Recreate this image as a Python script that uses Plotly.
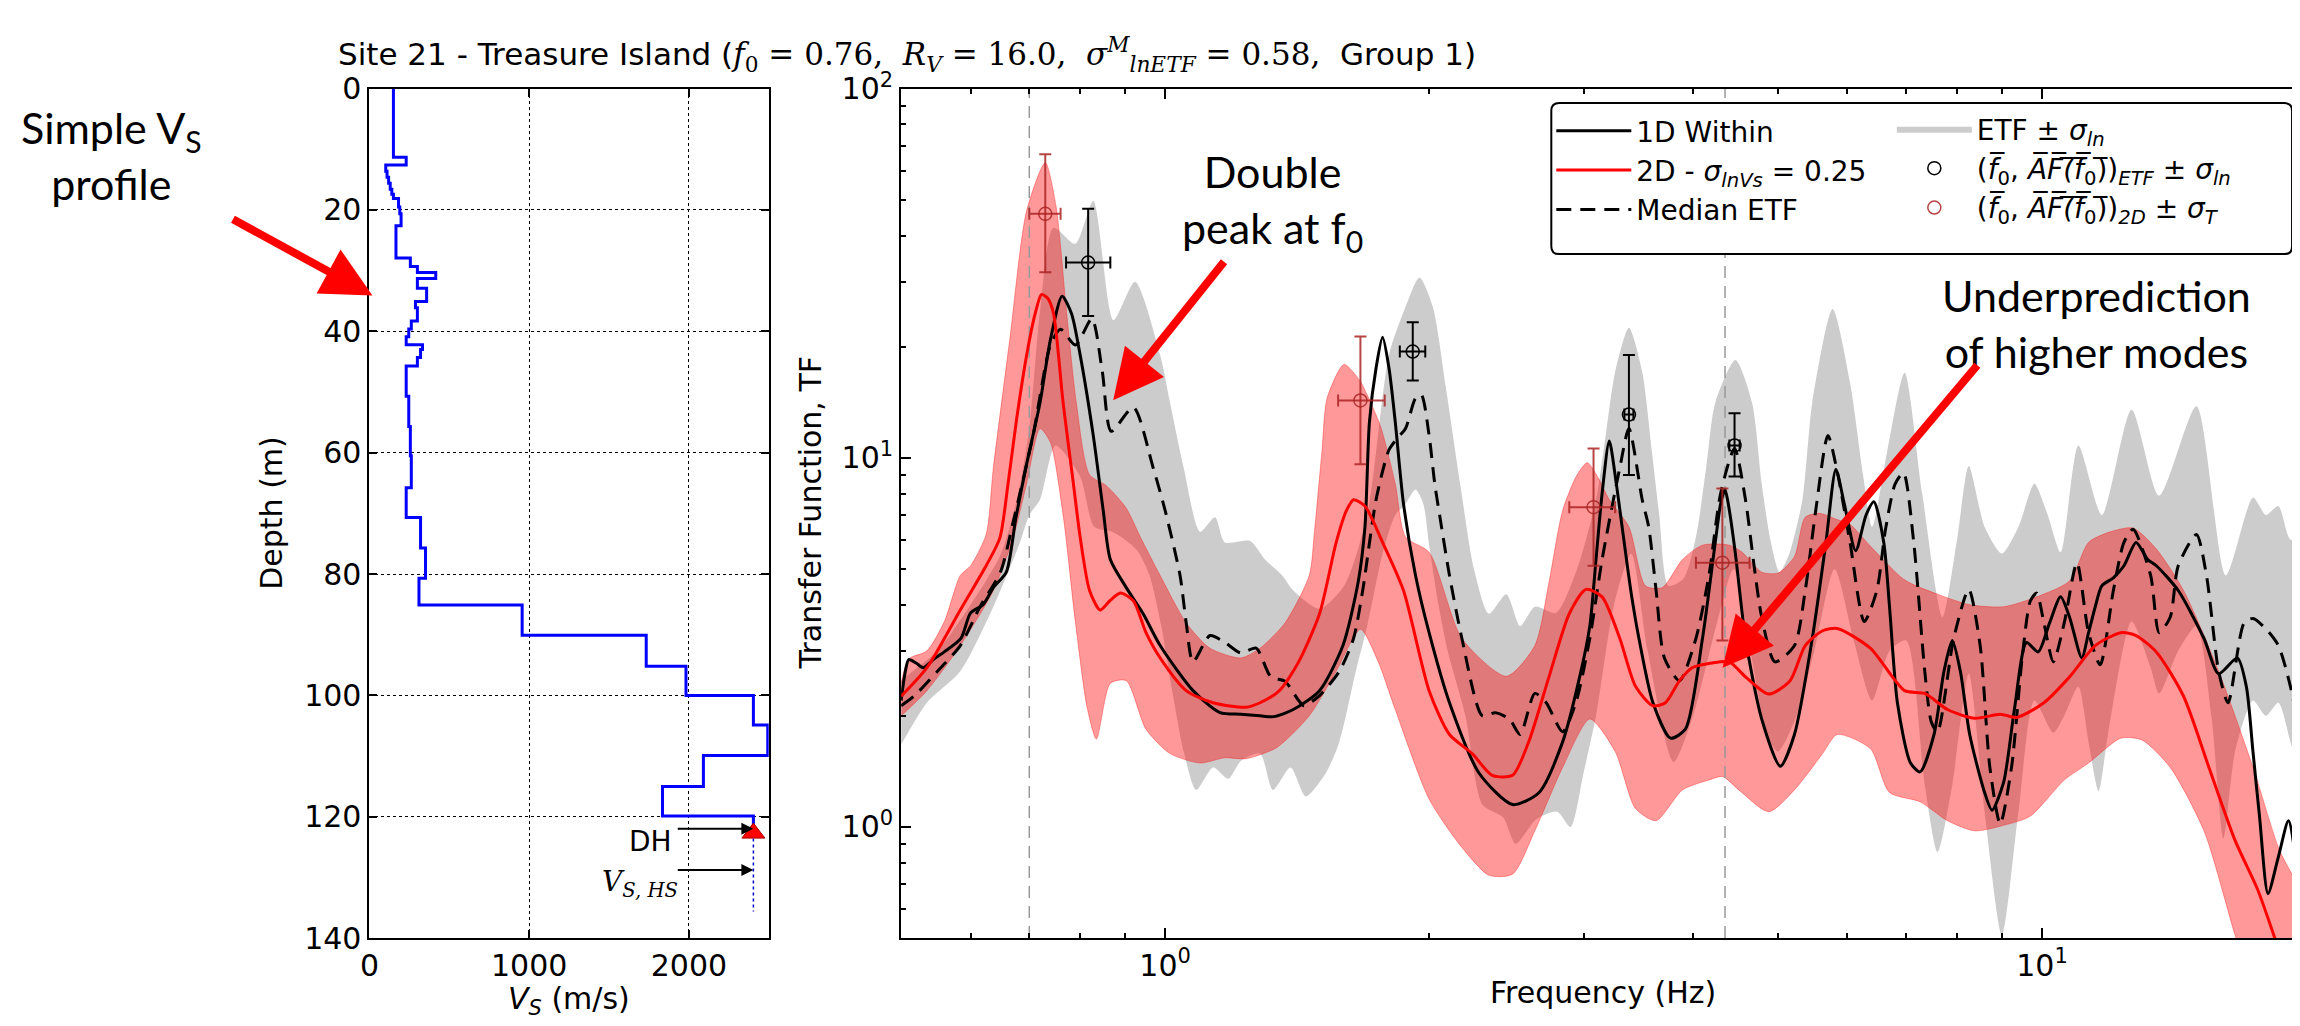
import math
import plotly.graph_objects as go

W, H = 2300, 1026

# ---------------- Vs profile (left panel) ----------------
layer_top_m = [0, 11.3, 12.6, 13.6, 14.6, 15.6, 16.6, 17.4, 18.1, 19.5, 20.6, 22.6, 27.9, 29.3,
               30.3, 31.3, 32.9, 35.1, 36.1, 38.3, 39.6, 40.9, 42.2, 43.0, 44.3, 45.7, 50.7, 55.7,
               60.5, 65.8, 70.7, 75.7, 80.7, 85.1, 90.1, 95.2, 100.0, 104.9, 109.9, 115.0, 119.9]
layer_vs = [150, 230, 102, 110, 120, 130, 140, 150, 182, 190, 198, 166, 256, 300,
            415, 300, 358, 288, 300, 262, 246, 230, 332, 320, 300, 230, 246, 256,
            262, 230, 320, 351, 310, 956, 1733, 1982, 2404, 2494, 2091, 1835, 2404]
profile_end_m = 121.5
vs_halfspace = 2404
halfspace_depths = [123.6, 135.6]
dh_depth_m = 122.7
dh_arrow_depth = 122.0
hs_arrow_depth = 128.8
arrow_tail_vs = 1921

# ---------------- Transfer functions (right panel) ----------------
f_1d = [0.50, 0.505, 0.51, 0.52, 0.53, 0.545, 0.56, 0.585, 0.60, 0.62, 0.637, 0.659, 0.676, 0.695,
        0.72, 0.74, 0.763, 0.782, 0.80, 0.828, 0.85, 0.866, 0.903, 0.944, 0.987, 1.076, 1.155, 1.22,
        1.283, 1.33, 1.40, 1.50, 1.595, 1.66, 1.69, 1.71, 1.74, 1.77, 1.80, 1.83, 1.87, 1.93, 2.00,
        2.11, 2.28, 2.49, 2.67, 2.84, 2.97, 3.05, 3.10, 3.15, 3.21, 3.27, 3.32, 3.40, 3.47, 3.60,
        3.77, 3.92, 4.10, 4.24, 4.30, 4.35, 4.40, 4.47, 4.59, 4.79, 5.03, 5.22, 5.47, 5.67, 5.82,
        5.95, 6.13, 6.30, 6.43, 6.60, 6.70, 6.84, 7.08, 7.26, 7.53, 7.73, 7.90, 8.07, 8.27, 8.60,
        8.77, 9.04, 9.30, 9.60, 9.90, 10.2, 10.5, 10.75, 11.1, 11.3, 11.5, 11.7, 12.06, 12.4, 12.8,
        13.2, 13.5, 14.3, 15.3, 15.9, 16.7, 17.1, 17.4, 17.7, 18.1, 18.6, 19.1, 19.5, 19.9]
tf_1d = [2.20, 2.60, 2.84, 2.78, 2.70, 2.85, 2.98, 3.24, 3.80, 4.00, 4.45, 4.90, 6.9, 9.6,
         14.1, 20.9, 27.4, 24.6, 19.0, 11.5, 7.2, 5.3, 4.45, 3.78, 3.10, 2.34, 2.04, 2.02,
         2.00, 1.99, 2.08, 2.34, 3.10, 4.6, 6.5, 12.5, 17.5, 21.2, 17.5, 12.5, 7.5, 4.8, 3.36,
         2.17, 1.40, 1.15, 1.24, 1.70, 2.55, 3.5, 5.3, 8.0, 11.1, 8.5, 6.5, 4.3, 3.24, 2.17,
         1.74, 1.84, 3.24, 5.9, 7.5, 8.2, 7.2, 5.5, 3.24, 1.96, 1.46, 1.78, 3.24, 5.9, 9.3,
         7.5, 5.6, 7.0, 7.6, 5.9, 3.95, 2.17, 1.49, 1.41, 1.78, 2.64, 3.20, 2.64, 1.78, 1.24,
         1.11, 1.32, 2.08, 3.16, 2.98, 3.57, 4.20, 3.70, 2.87, 3.36, 3.95, 4.50, 4.73, 5.10, 5.90,
         5.30, 5.10, 4.37, 3.24, 2.60, 2.87, 2.40, 1.60, 1.07, 0.66, 0.83, 1.04, 0.80, 0.51]

f_2d = [0.50, 0.535, 0.584, 0.625, 0.648, 0.662, 0.677, 0.695, 0.711, 0.723, 0.735, 0.746, 0.765,
        0.786, 0.80, 0.82, 0.843, 0.865, 0.889, 0.92, 0.951, 0.987, 1.057, 1.134, 1.236, 1.283,
        1.35, 1.42, 1.50, 1.567, 1.61, 1.64, 1.69, 1.77, 1.87, 2.00, 2.11, 2.24, 2.36, 2.49, 2.60,
        2.74, 2.89, 3.02, 3.15, 3.30, 3.44, 3.60, 3.72, 3.86, 3.99, 4.20, 4.40, 4.59, 4.88, 5.16,
        5.37, 5.62, 5.84, 6.37, 6.97, 7.35, 7.80, 8.38, 8.96, 9.36, 10.05, 10.75, 11.5, 12.3,
        12.8, 13.5, 14.5, 15.5, 16.6, 17.6, 18.4, 19.0]
tf_2d = [2.26, 2.70, 3.87, 5.10, 6.07, 8.5, 12.7, 18.9, 24.6, 27.7, 27.0, 24.6, 14.1,
         8.5, 6.1, 4.37, 3.87, 4.10, 4.30, 4.10, 3.36, 2.87, 2.34, 2.17, 2.11, 2.17,
         2.34, 2.80, 3.78, 5.9, 7.2, 7.7, 7.4, 5.9, 4.37, 2.34, 1.78, 1.58, 1.38, 1.38, 1.71,
         2.55, 3.78, 4.40, 4.20, 3.24, 2.40, 2.13, 2.17, 2.49, 2.70, 2.78, 2.80, 2.55, 2.29, 2.49,
         3.10, 3.40, 3.45, 3.05, 2.34, 2.30, 2.08, 1.97, 2.02, 1.98, 2.17, 2.55, 3.10, 3.36,
         3.30, 2.98, 2.26, 1.45, 0.92, 0.68, 0.505, 0.40]

f_etf = [0.50, 0.517, 0.55, 0.584, 0.615, 0.649, 0.67, 0.707, 0.74, 0.76, 0.79, 0.825, 0.848, 0.868,
         0.92, 0.969, 1.00, 1.04, 1.057, 1.076, 1.125, 1.17, 1.22, 1.27, 1.32, 1.37, 1.42, 1.44,
         1.50, 1.58, 1.64, 1.68, 1.74, 1.80, 1.84, 1.88, 1.93, 1.96, 2.00, 2.03, 2.06, 2.11, 2.18,
         2.30, 2.38, 2.47, 2.54, 2.64, 2.72, 2.84, 2.94, 3.05, 3.15, 3.30, 3.38, 3.50, 3.56, 3.63,
         3.71, 3.86, 4.03, 4.17, 4.30, 4.46, 4.59, 4.70, 4.79, 4.96, 5.22, 5.37, 5.52, 5.70, 5.85,
         6.04, 6.27, 6.48, 6.63, 6.80, 6.95, 7.14, 7.35, 7.48, 7.60, 7.93, 8.25, 8.50, 8.72, 8.96,
         9.23, 9.50, 9.70, 9.86, 10.05, 10.3, 10.6, 10.96, 11.3, 11.65, 12.06, 12.4, 12.7, 13.3,
         13.6, 14.0, 14.3, 15.0, 15.4, 15.9, 16.3, 17.0, 17.4, 18.0, 18.6, 19.2, 19.8, 20.0]
tf_etf = [2.13, 2.26, 2.64, 3.10, 3.95, 4.90, 6.6, 11.5, 20.2, 22.3, 20.2, 23.8, 17.1, 11.8,
          13.7, 9.4, 7.2, 4.8, 3.57, 2.80, 3.30, 3.16, 2.96, 3.05, 2.55, 2.48, 2.20, 2.13,
          2.27, 2.64, 3.24, 4.37, 7.7, 10.5, 11.3, 12.0, 14.5, 14.8, 11.5, 8.5, 6.8, 4.8, 3.24,
          2.00, 2.04, 1.96, 1.78, 2.30, 2.17, 1.81, 2.17, 3.24, 5.3, 9.4, 12.0, 7.7, 6.5, 4.37,
          2.87, 2.49, 3.24, 4.8, 8.0, 10.6, 7.7, 5.0, 3.70, 2.80, 3.10, 4.37, 7.2, 11.5, 9.0,
          5.9, 3.60, 4.37, 6.4, 8.5, 9.1, 5.9, 2.64, 1.92, 1.81, 3.24, 4.40, 3.10, 1.45, 1.02,
          1.45, 2.93, 4.10, 4.30, 3.57, 2.80, 3.57, 5.2, 3.36, 2.75, 4.37, 5.90, 6.40, 4.80,
          3.36, 3.70, 5.10, 6.20, 4.80, 2.64, 2.17, 3.57, 3.67, 3.44, 3.10, 2.40, 1.64, 1.45]

f_etf_up = [0.50, 0.55, 0.60, 0.65, 0.68, 0.70, 0.72, 0.746, 0.79, 0.828, 0.873, 0.924, 0.987, 1.013,
            1.05, 1.096, 1.14, 1.17, 1.25, 1.30, 1.36, 1.40, 1.50, 1.60, 1.70, 1.80, 1.88, 1.95, 2.02,
            2.09, 2.17, 2.25, 2.34, 2.45, 2.54, 2.64, 2.79, 2.95, 3.10, 3.18, 3.26, 3.38, 3.50, 3.59,
            3.66, 3.75, 3.90, 4.03, 4.14, 4.24, 4.47, 4.67, 4.79, 4.90, 5.02, 5.15, 5.33, 5.47, 5.77,
            6.04, 6.25, 6.40, 6.66, 6.97, 7.30, 7.70, 8.00, 8.25, 8.60, 9.00, 9.40, 9.80, 10.15, 10.5,
            11.0, 11.7, 12.65, 13.6, 15.0, 16.2, 17.4, 18.0, 18.6, 19.2, 20.0]
tf_etf_up = [2.50, 3.00, 4.00, 5.50, 8.0, 12.0, 25.0, 42.0, 38.0, 49.6, 23.6, 30.0, 19.0, 14.1,
             9.4, 6.3, 6.9, 5.9, 5.95, 5.30, 4.80, 4.37, 3.90, 4.50, 7.0, 19.0, 25.6, 30.8, 25.6,
             15.5, 8.5, 5.0, 3.78, 4.27, 3.50, 3.95, 3.80, 5.00, 7.7, 11.5, 17.1, 22.5, 17.1, 10.4,
             7.0, 4.5, 4.7, 6.1, 9.4, 14.1, 18.4, 14.1, 8.5, 6.0, 4.9, 5.5, 7.7, 14.1, 25.3,
             16.0, 9.0, 6.5, 10.4, 17.0, 8.0, 3.7, 6.0, 9.5, 6.5, 5.5, 6.5, 8.5, 7.0, 5.55,
             10.8, 7.0, 13.5, 7.9, 13.8, 4.8, 7.8, 7.0, 7.4, 6.0, 6.1]

f_etf_lo = [0.50, 0.535, 0.584, 0.637, 0.683, 0.70, 0.72, 0.75, 0.80, 0.83, 0.87, 0.90, 0.93, 0.96,
            0.99, 1.02, 1.05, 1.085, 1.134, 1.18, 1.22, 1.283, 1.327, 1.39, 1.447, 1.525, 1.58, 1.65,
            1.70, 1.77, 1.83, 1.88, 1.93, 1.97, 2.00, 2.05, 2.10, 2.20, 2.30, 2.43, 2.51, 2.65, 2.80,
            2.90, 3.00, 3.10, 3.25, 3.40, 3.55, 3.80, 4.00, 4.25, 4.45, 4.65, 4.85, 5.00, 5.25, 5.50,
            5.80, 6.10, 6.40, 6.70, 7.00, 7.35, 7.60, 7.90, 8.25, 8.60, 9.00, 9.40, 9.80, 10.3, 10.6,
            11.0, 11.3, 11.6, 11.9, 12.65, 13.3, 13.6, 14.3, 15.0, 15.6, 16.1, 16.6, 17.4, 18.0,
            18.6, 19.2, 19.6, 20.0]
tf_etf_lo = [1.67, 2.17, 2.64, 3.95, 5.9, 7.0, 7.7, 10.8, 8.9, 6.5, 6.3, 6.0, 5.6, 4.8,
             3.5, 2.3, 1.6, 1.26, 1.45, 1.35, 1.51, 1.58, 1.26, 1.45, 1.21, 1.40, 1.70, 2.64,
             3.50, 5.5, 7.0, 7.5, 8.2, 7.5, 5.8, 4.0, 3.0, 2.0, 1.15, 1.06, 0.90, 1.05, 1.10,
             1.00, 1.40, 2.00, 4.0, 5.5, 3.0, 1.50, 2.00, 3.5, 5.0, 3.0, 1.80, 1.60, 2.00, 3.00,
             5.0, 3.2, 2.2, 3.0, 3.2, 1.3, 0.855, 1.3, 2.6, 1.1, 0.51, 1.1, 2.2, 1.8, 2.0,
             2.4, 1.7, 1.25, 1.8, 3.6, 2.7, 2.3, 3.0, 3.5, 2.0, 0.93, 1.6, 2.2, 2.0,
             2.17, 1.7, 1.45, 1.25]

f_2d_up = [0.50, 0.51, 0.535, 0.56, 0.584, 0.60, 0.625, 0.637, 0.665, 0.695, 0.73, 0.751, 0.771,
           0.792, 0.82, 0.857, 0.903, 0.937, 0.987, 1.057, 1.125, 1.22, 1.283, 1.37, 1.46, 1.48,
           1.51, 1.53, 1.60, 1.67, 1.70, 1.76, 1.83, 1.88, 2.00, 2.18, 2.45, 2.64, 2.74, 2.84, 2.95,
           3.03, 3.12, 3.21, 3.38, 3.53, 3.69, 3.89, 4.10, 4.40, 4.55, 4.79, 5.00, 5.22, 5.37, 5.58,
           5.84, 6.04, 6.37, 6.97, 7.60, 8.27, 9.04, 9.86, 10.75, 11.3, 11.96, 12.7, 13.5, 14.5,
           15.9, 17.4, 18.6, 20.0]
tf_2d_up = [2.45, 2.85, 3.00, 3.60, 4.80, 5.10, 6.20, 9.4, 20.9, 46.6, 63.0, 48.0, 25.6,
            14.1, 9.0, 8.4, 7.3, 6.1, 4.8, 3.57, 3.05, 2.87, 3.05, 3.57, 4.8, 6.3,
            10.5, 14.5, 17.9, 16.1, 14.8, 12.2, 8.5, 6.1, 5.55, 3.24, 2.56, 3.10, 4.60, 7.2, 9.0,
            9.7, 8.8, 7.7, 6.5, 4.5, 4.45, 5.3, 5.8, 5.8, 5.55, 4.9, 4.87, 5.4, 6.9, 7.07,
            6.8, 6.6, 5.77, 4.67, 4.27, 4.00, 3.95, 4.20, 4.64, 5.9, 6.3, 6.45, 5.66, 4.37,
            2.64, 1.45, 0.88, 0.59]

f_2d_lo = [0.50, 0.535, 0.584, 0.637, 0.67, 0.695, 0.72, 0.74, 0.765, 0.79, 0.815, 0.835, 0.866,
           0.903, 0.951, 1.013, 1.096, 1.17, 1.236, 1.34, 1.46, 1.567, 1.67, 1.75, 1.83, 2.00, 2.18,
           2.34, 2.49, 2.64, 2.84, 3.05, 3.26, 3.44, 3.63, 3.89, 4.17, 4.32, 4.51, 4.88, 5.22, 5.62,
           5.84, 6.37, 6.70, 7.26, 7.80, 8.38, 9.04, 9.70, 10.6, 11.3, 12.3, 13.0, 14.0, 15.3, 16.6,
           17.5]
tf_2d_lo = [2.00, 2.34, 3.10, 4.37, 6.0, 8.5, 12.0, 11.0, 7.0, 3.6, 2.1, 1.73, 2.45,
            2.49, 1.84, 1.58, 1.49, 1.54, 1.53, 1.64, 2.00, 2.64, 3.43, 2.80, 2.08, 1.19, 0.88,
            0.74, 0.745, 0.976, 1.45, 1.96, 1.60, 1.12, 1.04, 1.26, 1.34, 1.37, 1.26, 1.10, 1.26, 1.58,
            1.78, 1.63, 1.24, 1.17, 1.04, 0.976, 1.01, 1.07, 1.34, 1.49, 1.74, 1.72, 1.45, 0.976, 0.51,
            0.35]

# mean f0 / AF(f0) points with +/- sigma
etf_pt_f = [0.817, 1.916, 3.38, 4.46]
etf_pt_f_lo = [0.771, 1.852, 3.34, 4.40]
etf_pt_f_hi = [0.866, 1.980, 3.42, 4.52]
etf_pt_af = [33.8, 19.4, 13.1, 10.8]
etf_pt_af_lo = [24.2, 16.2, 8.98, 8.9]
etf_pt_af_hi = [47.3, 23.3, 19.0, 13.2]

td_pt_f = [0.73, 1.67, 3.08, 4.32]
td_pt_f_lo = [0.70, 1.575, 2.89, 4.03]
td_pt_f_hi = [0.76, 1.78, 3.26, 4.64]
td_pt_af = [45.8, 14.3, 7.35, 5.2]
td_pt_af_lo = [31.8, 9.6, 5.1, 3.2]
td_pt_af_hi = [66.4, 21.3, 10.6, 8.26]

f0_lines = [0.70, 4.35]
f_range = [0.5, 20]
tf_range = [0.5, 100]

# ---------------- helpers for layout positions ----------------
def px(x):
    return x / W


def py(y):
    return 1 - y / H


LEFT_X = [353, 754]
RIGHT_X = [887, 2298]
PLOT_Y = [62, 945]

SANS = "DejaVu Sans"
NOTE = "Lato"
SMOOTH = 0.7

fig = go.Figure()

# ---- left panel ----
fig.add_trace(go.Scatter(
    x=layer_vs + [layer_vs[-1]], y=layer_top_m + [profile_end_m], mode="lines",
    line=dict(color="#0000ff", width=3, shape="vh"), showlegend=False,
    xaxis="x", yaxis="y", hoverinfo="skip"))
fig.add_trace(go.Scatter(
    x=[vs_halfspace, vs_halfspace], y=halfspace_depths, mode="lines",
    line=dict(color="#0000cc", width=1.5, dash="dot"), showlegend=False,
    xaxis="x", yaxis="y", hoverinfo="skip"))
fig.add_trace(go.Scatter(
    x=[vs_halfspace], y=[dh_depth_m], mode="markers",
    marker=dict(symbol="triangle-up", size=20, color="#ff0000", line=dict(color="#aa0000", width=1)),
    showlegend=False, xaxis="x", yaxis="y", hoverinfo="skip"))

# ---- right panel ----
fig.add_trace(go.Scatter(
    x=f_etf_up + f_etf_lo[::-1], y=tf_etf_up + tf_etf_lo[::-1], fill="toself",
    fillcolor="#cccccc", line=dict(width=0, color="#cccccc", shape="spline", smoothing=SMOOTH),
    mode="lines", name="ETF ± <i>σ<sub>ln</sub></i>", legend="legend2", legendrank=1,
    xaxis="x2", yaxis="y2", hoverinfo="skip"))
fig.add_trace(go.Scatter(
    x=f_2d_up + f_2d_lo[::-1], y=tf_2d_up + tf_2d_lo[::-1], fill="toself",
    fillcolor="rgba(255,0,0,0.40)",
    line=dict(width=1, color="rgba(255,0,0,0.35)", shape="spline", smoothing=SMOOTH), mode="lines",
    showlegend=False, xaxis="x2", yaxis="y2", hoverinfo="skip"))
for fv in f0_lines:
    fig.add_trace(go.Scatter(
        x=[fv, fv], y=tf_range, mode="lines",
        line=dict(color="#999999", width=1.5, dash="12px,8px"), showlegend=False,
        xaxis="x2", yaxis="y2", hoverinfo="skip"))

fig.add_trace(go.Scatter(
    x=f_etf, y=tf_etf, mode="lines",
    line=dict(color="black", width=3, dash="15px,9px", shape="spline", smoothing=SMOOTH),
    name="Median ETF", legend="legend", legendrank=3, legendgroup="c",
    xaxis="x2", yaxis="y2"))
fig.add_trace(go.Scatter(
    x=f_1d, y=tf_1d, mode="lines",
    line=dict(color="black", width=3, shape="spline", smoothing=SMOOTH),
    name="1D Within", legend="legend", legendrank=1, legendgroup="a",
    xaxis="x2", yaxis="y2"))
fig.add_trace(go.Scatter(
    x=f_2d, y=tf_2d, mode="lines",
    line=dict(color="#ff0000", width=3, shape="spline", smoothing=SMOOTH),
    name="2D - <i>σ<sub>lnVs</sub></i> = 0.25", legend="legend", legendrank=2, legendgroup="b",
    xaxis="x2", yaxis="y2"))


def err_bars(fc, flo, fhi, ac, alo, ahi):
    ex = dict(type="data", symmetric=False,
              array=[h - c for h, c in zip(fhi, fc)], arrayminus=[c - l for c, l in zip(fc, flo)])
    ey = dict(type="data", symmetric=False,
              array=[h - c for h, c in zip(ahi, ac)], arrayminus=[c - l for c, l in zip(ac, alo)])
    return ex, ey


ex, ey = err_bars(etf_pt_f, etf_pt_f_lo, etf_pt_f_hi, etf_pt_af, etf_pt_af_lo, etf_pt_af_hi)
ex.update(color="black", thickness=2, width=6)
ey.update(color="black", thickness=2, width=6)
fig.add_trace(go.Scatter(
    x=etf_pt_f, y=etf_pt_af, mode="markers",
    marker=dict(symbol="circle-open", size=13, color="black", line=dict(width=1.5)),
    error_x=ex, error_y=ey,
    name="(<i>f̅</i><sub>0</sub>, <i>A̅F̅(̅f̅</i>̅<sub>0</sub>)̅)<sub><i>ETF</i></sub> ± <i>σ<sub>ln</sub></i>",
    legend="legend2", legendrank=2, xaxis="x2", yaxis="y2"))

ex, ey = err_bars(td_pt_f, td_pt_f_lo, td_pt_f_hi, td_pt_af, td_pt_af_lo, td_pt_af_hi)
red_err = "rgba(170,35,35,0.85)"
ex.update(color=red_err, thickness=2, width=6)
ey.update(color=red_err, thickness=2, width=6)
fig.add_trace(go.Scatter(
    x=td_pt_f, y=td_pt_af, mode="markers",
    marker=dict(symbol="circle-open", size=13, color=red_err, line=dict(width=1.5)),
    error_x=ex, error_y=ey,
    name="(<i>f̅</i><sub>0</sub>, <i>A̅F̅(̅f̅</i>̅<sub>0</sub>)̅)<sub><i>2D</i></sub> ± <i>σ<sub>T</sub></i>",
    legend="legend2", legendrank=3, xaxis="x2", yaxis="y2"))

# ---------------- axes ----------------
tickfont = dict(family=SANS, size=30, color="black")
common = dict(showline=True, linecolor="black", linewidth=2, mirror="ticks", ticks="inside",
              tickcolor="black", tickwidth=1.5, zeroline=False, tickfont=tickfont)

fig.update_layout(
    xaxis=dict(domain=[px(LEFT_X[0]), px(LEFT_X[1])], range=[0, 2500], tickvals=[0, 1000, 2000],
               ticklen=8, showgrid=True, gridcolor="black", gridwidth=1, griddash="dot",
               anchor="y", **common),
    yaxis=dict(domain=[py(PLOT_Y[1]), py(PLOT_Y[0])], range=[140, 0],
               tickvals=[0, 20, 40, 60, 80, 100, 120, 140],
               ticklen=8, showgrid=True, gridcolor="black", gridwidth=1, griddash="dot",
               anchor="x", **common),
    xaxis2=dict(domain=[px(RIGHT_X[0]), px(RIGHT_X[1])], type="log",
                range=[math.log10(f_range[0]), math.log10(f_range[1])],
                tickvals=[1, 10], ticktext=["10<sup>0</sup>", "10<sup>1</sup>"], ticklen=10,
                minor=dict(ticks="inside", ticklen=5, tickcolor="black",
                           tickvals=[0.6, 0.7, 0.8, 0.9, 2, 3, 4, 5, 6, 7, 8, 9, 20]),
                showgrid=False, anchor="y2", **common),
    yaxis2=dict(domain=[py(PLOT_Y[1]), py(PLOT_Y[0])], type="log",
                range=[math.log10(tf_range[0]), math.log10(tf_range[1])],
                tickvals=[1, 10, 100], ticktext=["10<sup>0</sup>", "10<sup>1</sup>", "10<sup>2</sup>"],
                ticklen=10,
                minor=dict(ticks="inside", ticklen=5, tickcolor="black",
                           tickvals=[0.6, 0.7, 0.8, 0.9, 2, 3, 4, 5, 6, 7, 8, 9,
                                     20, 30, 40, 50, 60, 70, 80, 90]),
                showgrid=False, anchor="x2", **common),
)

# ---------------- legend ----------------
fig.update_layout(
    legend=dict(x=px(1540), y=py(80), xanchor="left", yanchor="top", bgcolor="rgba(0,0,0,0)",
                borderwidth=0, font=dict(family=SANS, size=28, color="black"), itemwidth=75,
                tracegroupgap=6, traceorder="normal"),
    legend2=dict(x=px(1882), y=py(78), xanchor="left", yanchor="top", bgcolor="rgba(0,0,0,0)",
                 borderwidth=0, font=dict(family=SANS, size=28, color="black"), itemwidth=75,
                 tracegroupgap=6),
)

# rounded legend frame
x0, y0, x1, y1, r = px(1540), py(77), px(2284), py(234), 8
rx, ry = r / W, r / H
frame = (f"M{x0 + rx},{y0} L{x1 - rx},{y0} Q{x1},{y0} {x1},{y0 - ry} "
         f"L{x1},{y1 + ry} Q{x1},{y1} {x1 - rx},{y1} L{x0 + rx},{y1} Q{x0},{y1} {x0},{y1 + ry} "
         f"L{x0},{y0 - ry} Q{x0},{y0} {x0 + rx},{y0} Z")
fig.add_shape(type="path", path=frame, xref="paper", yref="paper", layer="above",
              fillcolor="white", line=dict(color="black", width=2))

# ---------------- annotations ----------------
ann = []


def label(text, x, y, font, angle=0):
    return dict(text=text, x=px(x), y=py(y), xref="paper", yref="paper", showarrow=False,
                xanchor="center", yanchor="middle", textangle=angle, font=font, align="center")


title_txt = ("Site 21 - Treasure Island (<span style=\"font-family:'DejaVu Serif'\"><i>f</i><sub>0</sub> = 0.76,  "
             "<i>R<sub>V</sub></i> = 16.0,  <i>σ</i><sup><i>M</i></sup><sub><i>lnETF</i></sub> = 0.58,</span>  Group 1)")
ann.append(label(title_txt, 893, 27, dict(family=SANS, size=31, color="black")))
axis_font = dict(family=SANS, size=30, color="black")
ann.append(label("Depth (m)", 255, 503, axis_font, -90))
ann.append(label("<i>V<sub>S</sub></i> (m/s)", 553, 1010, axis_font))
ann.append(label("Transfer Function, TF", 796, 503, axis_font, -90))
ann.append(label("Frequency (Hz)", 1592, 1002, axis_font))

# notes with red arrows
note_font = dict(family=NOTE, size=43, color="black")
ann.append(label("Simple V<sub>S</sub><br>profile", 94, 131, note_font))
ann.append(label("Double<br>peak at f<sub>0</sub>", 1260, 180, note_font))
ann.append(label("Underprediction<br>of higher modes", 2088, 306, note_font))
for (tx, ty), (hx, hy) in [((215, 200), (356, 277)), ((1212, 246), (1100, 386)),
                           ((1968, 360), (1712, 664))]:
    ann.append(dict(text="", x=px(hx), y=py(hy), xref="paper", yref="paper", ax=tx - hx, ay=ty - hy,
                    axref="pixel", ayref="pixel", showarrow=True, arrowhead=2, arrowsize=1.25,
                    arrowwidth=8, arrowcolor="#ff0000", standoff=0))

# DH / Vs,HS markers on the profile
ann.append(dict(text="", x=vs_halfspace, y=dh_arrow_depth, ax=arrow_tail_vs, ay=dh_arrow_depth,
                xref="x", yref="y", axref="x", ayref="y", showarrow=True, arrowhead=2,
                arrowsize=1.2, arrowwidth=2, arrowcolor="black", standoff=0))
ann.append(dict(text="", x=vs_halfspace, y=hs_arrow_depth, ax=arrow_tail_vs, ay=hs_arrow_depth,
                xref="x", yref="y", axref="x", ayref="y", showarrow=True, arrowhead=2,
                arrowsize=1.2, arrowwidth=2, arrowcolor="black", standoff=0))
ann.append(dict(text="DH", x=1761, y=124.0, xref="x", yref="y", showarrow=False,
                xanchor="center", yanchor="middle", font=dict(family=SANS, size=28, color="black")))
ann.append(dict(text="<i>V<sub>S, HS</sub></i>", x=1693, y=131.0, xref="x", yref="y", showarrow=False,
                xanchor="center", yanchor="middle",
                font=dict(family="DejaVu Serif", size=28, color="black")))

fig.update_layout(
    annotations=ann,
    width=W, height=H,
    margin=dict(l=0, r=0, t=0, b=0),
    paper_bgcolor="white", plot_bgcolor="white",
    font=dict(family=SANS, color="black"),
    showlegend=True,
)

fig.write_html("out.html")
